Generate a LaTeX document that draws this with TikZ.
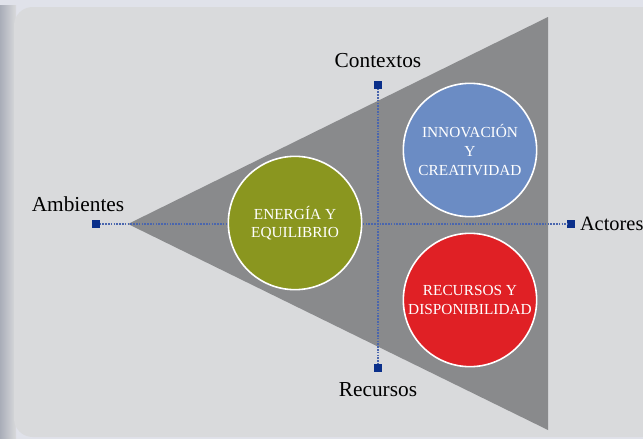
\documentclass[tikz,border=0pt]{standalone}
\usepackage{fontspec}
\setmainfont{Liberation Serif}
\usetikzlibrary{positioning}

\definecolor{fondo}{HTML}{E0E2EA}
\definecolor{panel}{HTML}{D9DADC}
\definecolor{sombra}{HTML}{A9ADB8}
\definecolor{triang}{HTML}{898A8C}
\definecolor{verde}{HTML}{8A961F}
\definecolor{azul}{HTML}{6B8CC4}
\definecolor{rojo}{HTML}{E02025}
\definecolor{marca}{HTML}{0A2F8A}
\definecolor{punteo}{HTML}{4A66AE}

\begin{document}
\begin{tikzpicture}[x=0.75pt, y=-0.75pt]
\tikzset{ inner sep=0pt, outer sep=0pt,
  marca/.style={fill=marca, minimum size=5.5pt, rectangle},
  eje/.style={punteo, line width=1.1pt, dash pattern=on 1.1pt off 1pt},
  bola/.style={circle, draw=white, line width=1.2pt, minimum size=100pt,
               align=center, text=white, font=\fontsize{11.5}{14}\selectfont},
  etiq/.style={font=\fontsize{16}{18}\selectfont},
}

\useasboundingbox (0,0) rectangle (643,439);
\fill [fondo] (0,0) rectangle (643,439);
\shade [left color=sombra, right color=panel] (0,5) rectangle (16,439);
\fill [panel, rounded corners=14pt] (14,7) rectangle (660,437);

%\draw [lightgray, dashed](0,0) grid (643,439);

\fill [triang] (128,224) -- (548,17) -- (548,430) -- cycle;

\node [marca] (A) at (96,224) {};
\node [marca] (T) at (571,224) {};
\node [marca] (C) at (378,85) {};
\node [marca] (R) at (378,368) {};

\draw [eje] (A) -- (T);
\draw [eje] (C) -- (R);

\node [bola, fill=verde] (E) at (295,223) {ENERGÍA Y\\EQUILIBRIO};
\node [bola, fill=azul]  (I) at (470,150) {INNOVACIÓN\\Y\\CREATIVIDAD};
\node [bola, fill=rojo]  (D) at (470,300) {RECURSOS Y\\DISPONIBILIDAD};

\node [etiq] at (378,61)  {Contextos};
\node [etiq] at (378,390) {Recursos};
\node [etiq] at (78,204)  {Ambientes};
\node [etiq, anchor=west, font=\fontsize{15.3}{18}\selectfont] at (580,224) {Actores};

\end{tikzpicture}
\end{document}
